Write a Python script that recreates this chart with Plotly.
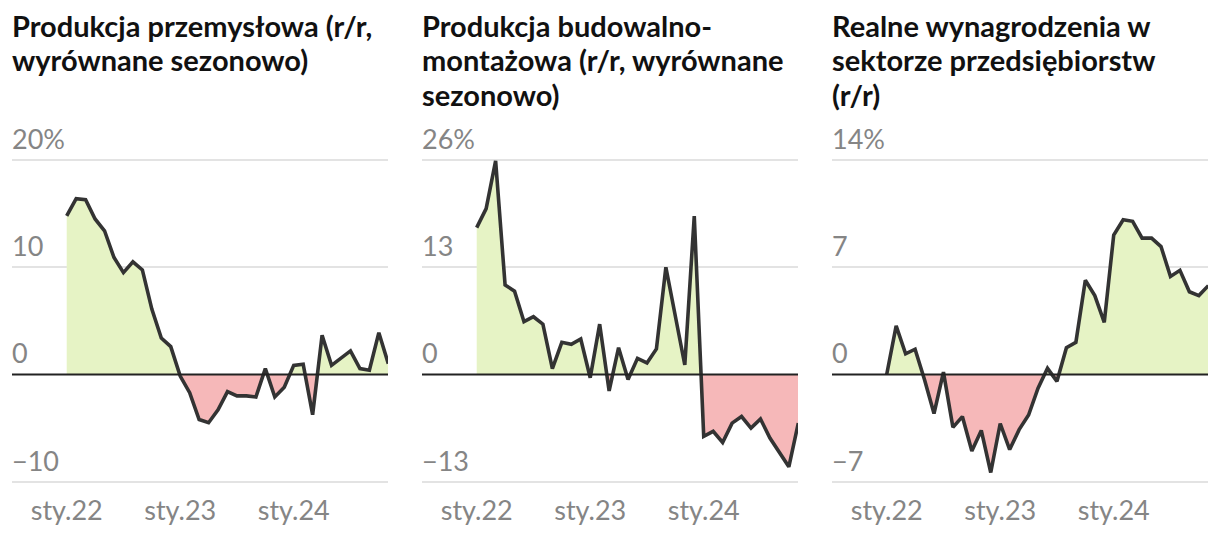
import plotly.graph_objects as go

# ---------------- data ----------------
months = list(range(35))  # Jan 2022 .. Nov 2024
x_tick_vals = [0, 12, 24]
x_tick_text = ["sty.22", "sty.23", "sty.24"]

industrial = [14.8, 16.4, 16.3, 14.5, 13.4, 10.9, 9.5, 10.5, 9.75, 6.1, 3.4, 2.6,
              -0.15, -1.7, -4.2, -4.5, -3.3, -1.6, -2.0, -2.0, -2.1, 0.55, -2.1, -1.2,
              0.85, 0.95, -3.75, 3.65, 0.85, 1.55, 2.2, 0.55, 0.4, 3.9, 1.0]
construction = [17.8, 20.1, 25.9, 10.85, 10.1, 6.4, 7.0, 6.1, 0.7, 3.9, 3.65, 4.3,
                -0.4, 6.1, -2.0, 3.25, -0.6, 1.95, 1.4, 3.1, 13.0, 6.9, 1.15, 19.2,
                -7.5, -6.9, -8.25, -5.9, -5.1, -6.5, -5.4, -7.7, -9.55, -11.2, -5.9]
wages = [0.0, 3.17, 1.35, 1.65, -0.35, -2.55, 0.15, -3.45, -2.75, -5.0, -3.65, -6.4,
         -3.2, -4.9, -3.6, -2.65, -0.9, 0.4, -0.45, 1.75, 2.1, 6.15, 5.15, 3.4,
         9.1, 10.1, 10.0, 8.9, 8.9, 8.35, 6.4, 6.8, 5.4, 5.15, 5.8]

titles = [["Produkcja przemysłowa (r/r,", "wyrównane sezonowo)"],
          ["Produkcja budowalno-", "montażowa (r/r, wyrównane", "sezonowo)"],
          ["Realne wynagrodzenia w", "sektorze przedsiębiorstw", "(r/r)"]]
y_ticks = [[-10, 0, 10, 20], [-13, 0, 13, 26], [-7, 0, 7, 14]]
y_tick_text = [["−10", "0", "10", "20%"], ["−13", "0", "13", "26%"], ["−7", "0", "7", "14%"]]
series = [industrial, construction, wages]

# ---------------- style / geometry ----------------
W, H = 1220, 538
FONT = "Lato"
GREEN = "#e6f3c5"
RED = "#f6b8b9"
LINE = "#333333"
GRID = "#e3e3e3"
TICKC = "#858585"
TITLE_SIZE = 29
TICK_SIZE = 27
TITLE_TOP = 6
TITLE_STEP = 34.4

panel_left = [12, 422, 832]
panel_width = 376
grid_top_px, grid_bot_px = 160, 481.7
plot_top_px, plot_bot_px = 150, 492
x0_px_off = 54.7      # first month offset from panel left
px_per_month = 9.459

fig = go.Figure()


def split_fill(xs, ys):
    px, py, nx, ny = [], [], [], []
    for i in range(len(xs)):
        if i > 0:
            a, b = ys[i - 1], ys[i]
            if (a > 0 and b < 0) or (a < 0 and b > 0):
                t = a / (a - b)
                xc = xs[i - 1] + t * (xs[i] - xs[i - 1])
                px.append(xc); py.append(0)
                nx.append(xc); ny.append(0)
        px.append(xs[i]); py.append(max(ys[i], 0))
        nx.append(xs[i]); ny.append(min(ys[i], 0))
    return px, py, nx, ny


annotations = []
shapes = []
for k in range(3):
    ax = "" if k == 0 else str(k + 1)
    xref, yref = "x" + ax, "y" + ax
    ys = series[k]
    px, py, nx, ny = split_fill(months, ys)
    fig.add_trace(go.Scatter(x=px, y=py, mode="lines", line=dict(width=0), fill="tozeroy",
                             fillcolor=GREEN, hoverinfo="skip", xaxis=xref, yaxis=yref))
    fig.add_trace(go.Scatter(x=nx, y=ny, mode="lines", line=dict(width=0), fill="tozeroy",
                             fillcolor=RED, hoverinfo="skip", xaxis=xref, yaxis=yref))
    fig.add_trace(go.Scatter(x=months, y=ys, mode="lines",
                             line=dict(color=LINE, width=3.6, shape="linear"),
                             cliponaxis=False, xaxis=xref, yaxis=yref))

    # axes
    lo, hi = y_ticks[k][0], y_ticks[k][-1]
    ppu = (grid_bot_px - grid_top_px) / (hi - lo)
    r_top = hi + (grid_top_px - plot_top_px) / ppu
    r_bot = lo - (plot_bot_px - grid_bot_px) / ppu
    xr_left = -x0_px_off / px_per_month
    xr_right = xr_left + panel_width / px_per_month
    xdom = [panel_left[k] / W, (panel_left[k] + panel_width) / W]
    ydom = [(H - plot_bot_px) / H, (H - plot_top_px) / H]
    fig.layout["xaxis" + ax] = dict(domain=xdom, range=[xr_left, xr_right], showgrid=False,
                                    zeroline=False, showline=False, tickvals=x_tick_vals,
                                    ticktext=x_tick_text, ticks="", anchor=yref,
                                    tickfont=dict(family=FONT, size=TICK_SIZE, color=TICKC),
                                    fixedrange=True)
    fig.layout["yaxis" + ax] = dict(domain=ydom, range=[r_bot, r_top], showgrid=True,
                                    gridcolor=GRID, gridwidth=1.6, zeroline=False,
                                    tickvals=[v for v in y_ticks[k] if v != 0],
                                    showticklabels=False, ticks="", anchor=xref,
                                    fixedrange=True)
    shapes.append(dict(type="line", xref=xref + " domain", yref=yref, x0=0, x1=1, y0=0, y1=0,
                       line=dict(color="#222222", width=2), layer="above"))
    for v, t in zip(y_ticks[k], y_tick_text[k]):
        annotations.append(dict(xref=xref + " domain", yref=yref, x=0, y=v, text=t,
                                showarrow=False, xanchor="left", yanchor="bottom",
                                yshift=3, xshift=-2,
                                font=dict(family=FONT, size=TICK_SIZE, color=TICKC)))
    for j, line_txt in enumerate(titles[k]):
        annotations.append(dict(xref=xref + " domain", yref="paper", x=0,
                                y=1 - (TITLE_TOP + j * TITLE_STEP) / H,
                                text=line_txt, showarrow=False, xanchor="left", yanchor="top",
                                align="left", xshift=-2,
                                font=dict(family=FONT, size=TITLE_SIZE, color="#111111",
                                          weight=700)))

fig.update_layout(width=W, height=H, margin=dict(l=0, r=0, t=0, b=0),
                  paper_bgcolor="white", plot_bgcolor="white", showlegend=False,
                  annotations=annotations, shapes=shapes)

fig.write_html("out.html", config={"displayModeBar": False})
